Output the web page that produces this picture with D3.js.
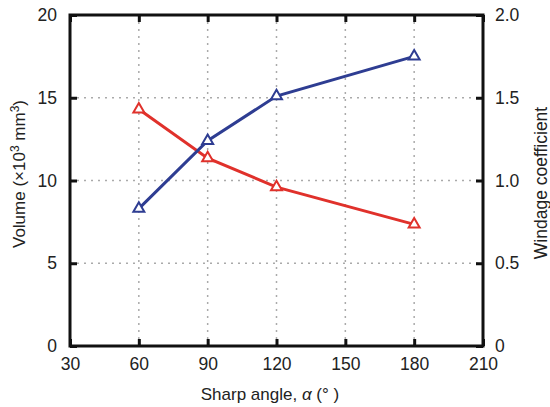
<!DOCTYPE html>
<html><head><meta charset="utf-8">
<script src="https://cdn.jsdelivr.net/npm/d3@7"></script>
<style>body{margin:0;background:#fff}svg{display:block}text{font-family:"Liberation Sans",Arial,sans-serif;fill:#222}</style>
</head><body><svg id="c" width="550" height="407"></svg>
<script>
const angles = [60, 90, 120, 180];
const volume = [14.3, 11.35, 9.6, 7.35];
const windage = [0.83, 1.24, 1.51, 1.75];
const xTicks = [30, 60, 90, 120, 150, 180, 210];
const yLeftTicks = [0, 5, 10, 15, 20];
const yRightTicks = [0, 0.5, 1.0, 1.5, 2.0];

const svg = d3.select("#c");
const L = 70, R = 483, T = 15, B = 346;
const x = d3.scaleLinear().domain([30, 210]).range([L, R]);
const yL = d3.scaleLinear().domain([0, 20]).range([B, T]);
const yR = d3.scaleLinear().domain([0, 2]).range([B, T]);

// grid
const g = svg.append("g");
g.selectAll(".vg").data(xTicks.slice(1, -1)).enter().append("line")
  .attr("x1", d => x(d)).attr("x2", d => x(d)).attr("y1", T).attr("y2", B)
  .attr("stroke", "#aaa").attr("stroke-width", 1.5).attr("stroke-dasharray", "2,5");
g.selectAll(".hg").data(yLeftTicks.slice(1, -1)).enter().append("line")
  .attr("y1", d => yL(d)).attr("y2", d => yL(d)).attr("x1", L).attr("x2", R)
  .attr("stroke", "#aaa").attr("stroke-width", 1.5).attr("stroke-dasharray", "2,5");

// axes
svg.append("g").attr("transform", `translate(0,${B})`)
  .call(d3.axisBottom(x).tickValues(xTicks).tickSize(-7).tickPadding(12))
  .call(a => a.select(".domain").remove());
svg.append("g").attr("transform", `translate(0,${T})`)
  .call(d3.axisTop(x).tickValues(xTicks).tickSize(-7).tickFormat(""))
  .call(a => a.select(".domain").remove());
svg.append("g").attr("transform", `translate(${L},0)`)
  .call(d3.axisLeft(yL).tickValues(yLeftTicks).tickSize(-7).tickPadding(13))
  .call(a => a.select(".domain").remove());
svg.append("g").attr("transform", `translate(${R},0)`)
  .call(d3.axisRight(yR).tickValues(yRightTicks).tickSize(-7).tickPadding(12)
    .tickFormat(d => d === 0 ? "0" : d3.format(".1f")(d)))
  .call(a => a.select(".domain").remove());
svg.selectAll(".tick line").attr("stroke", "#111").attr("stroke-width", 3);
svg.selectAll(".tick text").style("font-size", "17.5px").attr("fill", "#222");

svg.append("rect").attr("x", L).attr("y", T).attr("width", R - L).attr("height", B - T)
  .attr("fill", "none").attr("stroke", "#111").attr("stroke-width", 3);

// series
function series(vals, ys, color) {
  const pts = angles.map((a, i) => [x(a), ys(vals[i])]);
  svg.append("path").attr("d", d3.line()(pts)).attr("fill", "none")
    .attr("stroke", color).attr("stroke-width", 3);
  const tri = d3.symbol().type(d3.symbolTriangle).size(52);
  svg.selectAll(null).data(pts).enter().append("path")
    .attr("d", tri).attr("transform", d => `translate(${d[0]},${d[1]})`)
    .attr("fill", "#fff").attr("stroke", color).attr("stroke-width", 2);
}
series(volume, yL, "#e0312b");
series(windage, yR, "#2e3d92");

// titles
const bt = svg.append("text").attr("x", 270).attr("y", 400).attr("text-anchor", "middle").style("font-size", "17px");
bt.append("tspan").text("Sharp angle, ");
bt.append("tspan").style("font-style", "italic").text("α");
bt.append("tspan").text(" (° )");

const lt = svg.append("text").attr("transform", "translate(25,174) rotate(-90)").attr("text-anchor", "middle").style("font-size", "17px");
lt.append("tspan").text("Volume (×10");
lt.append("tspan").attr("dy", -6).style("font-size", "12px").text("3");
lt.append("tspan").attr("dy", 6).text(" mm");
lt.append("tspan").attr("dy", -6).style("font-size", "12px").text("3");
lt.append("tspan").attr("dy", 6).text(")");

svg.append("text").attr("transform", "translate(547,183) rotate(-90)").attr("text-anchor", "middle")
  .style("font-size", "17.5px").text("Windage coefficient");
</script></body></html>
